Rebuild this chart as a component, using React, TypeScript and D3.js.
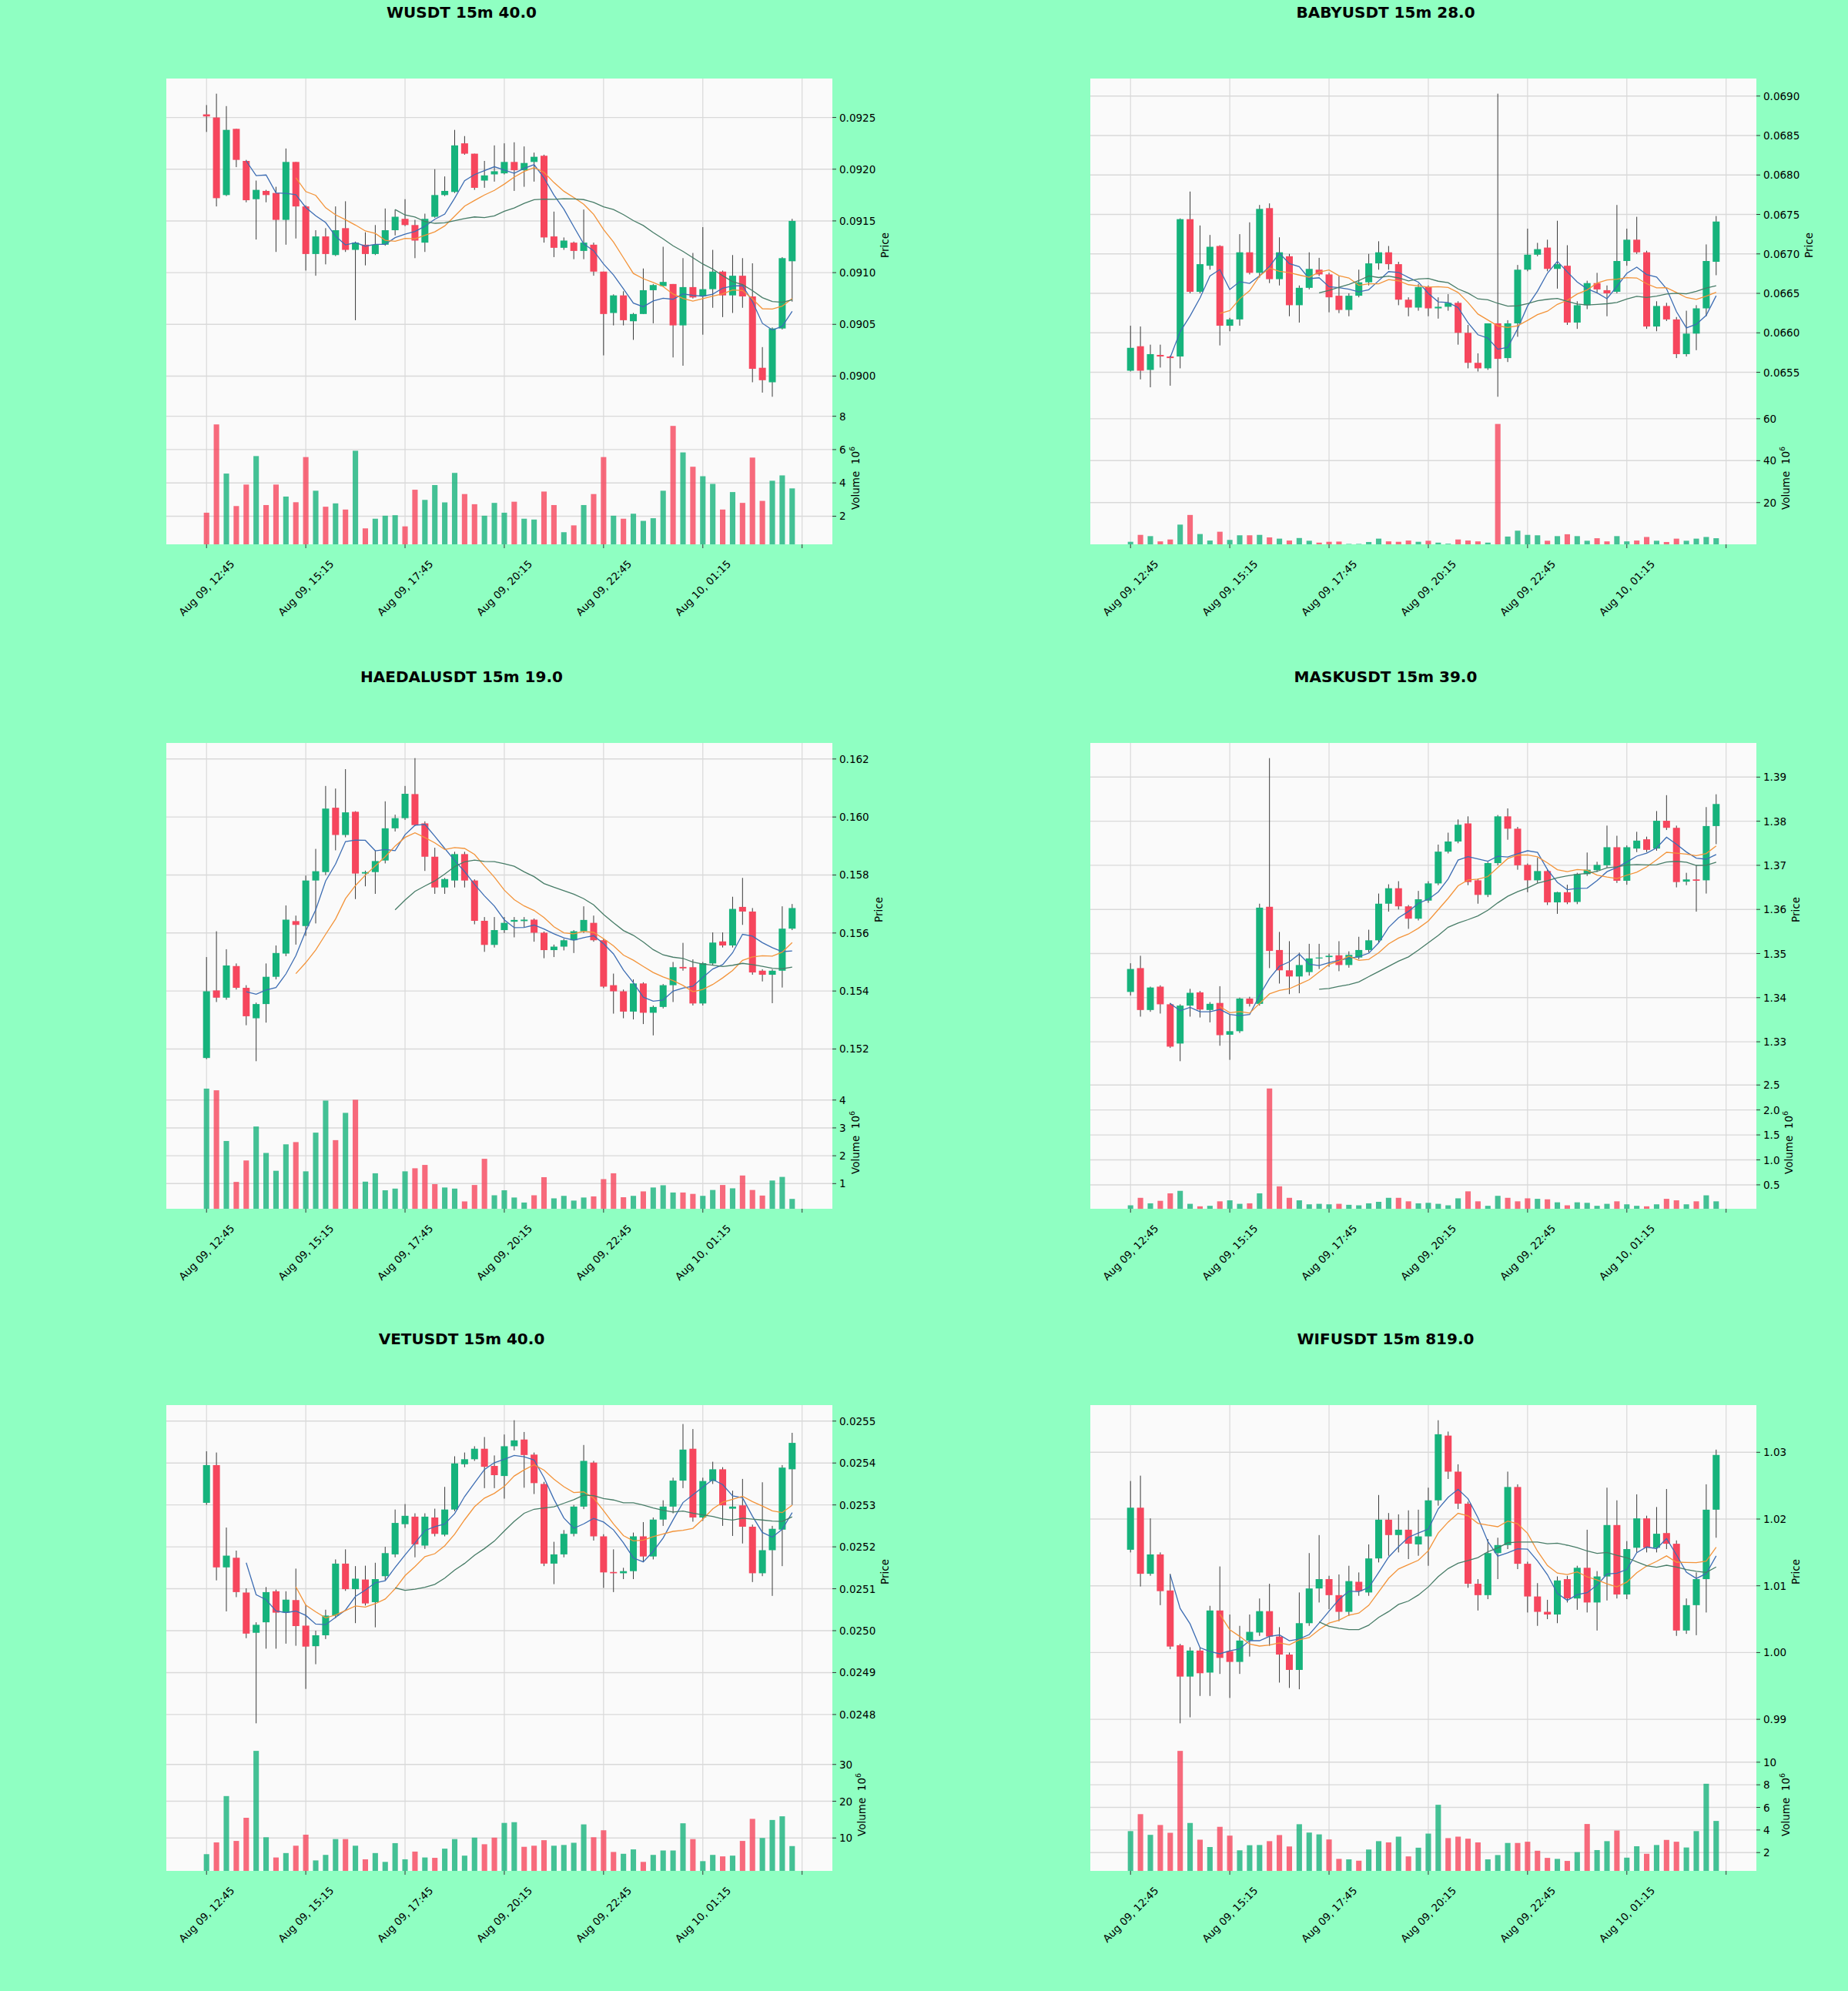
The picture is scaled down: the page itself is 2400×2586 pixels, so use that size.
// Six 15m candlestick panels (price + volume) with MA5 / MA10 / MA20

import * as d3 from "d3";

// x axis: one candle every 15 minutes, ticks every 10 candles
const X_TICKS = [0, 10, 20, 30, 40, 50, 60];
const X_TICK_LABELS = [
  "Aug 09, 12:45",
  "Aug 09, 15:15",
  "Aug 09, 17:45",
  "Aug 09, 20:15",
  "Aug 09, 22:45",
  "Aug 10, 01:15",
  "",
];

// [open, high, low, close]
const WUSDT_OHLC = [
  [0.09253, 0.09262, 0.09236, 0.09251], [0.0925, 0.09273, 0.09164, 0.09172], [0.09175, 0.09261, 0.09174, 0.09238],
  [0.09239, 0.09239, 0.09202, 0.09209], [0.09208, 0.09209, 0.09168, 0.0917], [0.09171, 0.09189, 0.09132, 0.0918],
  [0.09179, 0.0918, 0.09168, 0.09175], [0.09177, 0.09183, 0.0912, 0.09151], [0.09151, 0.0922, 0.09127, 0.09207],
  [0.09207, 0.09207, 0.09133, 0.09164], [0.09164, 0.09165, 0.09102, 0.09118], [0.09118, 0.09141, 0.09097, 0.09135],
  [0.09135, 0.09143, 0.09108, 0.09118], [0.09117, 0.09164, 0.09116, 0.09141], [0.09143, 0.09169, 0.0912, 0.09122],
  [0.09122, 0.0913, 0.09054, 0.09129], [0.09127, 0.09139, 0.09107, 0.09118], [0.09118, 0.09146, 0.09117, 0.09127],
  [0.09127, 0.09162, 0.09126, 0.09141], [0.09141, 0.09161, 0.09136, 0.09154], [0.09152, 0.09171, 0.09145, 0.09146],
  [0.09146, 0.09151, 0.09114, 0.09131], [0.09129, 0.09157, 0.0912, 0.09152], [0.09154, 0.092, 0.09153, 0.09175],
  [0.09175, 0.09193, 0.09174, 0.09179], [0.09178, 0.09238, 0.09177, 0.09223], [0.09225, 0.09232, 0.09214, 0.09215],
  [0.09215, 0.09215, 0.0918, 0.09182], [0.09189, 0.09208, 0.09182, 0.09194], [0.09195, 0.09223, 0.09188, 0.09198],
  [0.09196, 0.09225, 0.09195, 0.09207], [0.09207, 0.09226, 0.09179, 0.09199], [0.09199, 0.09222, 0.09183, 0.09206],
  [0.09207, 0.09216, 0.09188, 0.09212], [0.09213, 0.09214, 0.09129, 0.09134], [0.09135, 0.09159, 0.09115, 0.09124],
  [0.09124, 0.09134, 0.09122, 0.09131], [0.09129, 0.0913, 0.09113, 0.09121], [0.09121, 0.09161, 0.09113, 0.09129],
  [0.09127, 0.09129, 0.09097, 0.09101], [0.09101, 0.09101, 0.0902, 0.0906], [0.09061, 0.09079, 0.09049, 0.09078],
  [0.09078, 0.09082, 0.09049, 0.09054], [0.09053, 0.09061, 0.09035, 0.0906], [0.0906, 0.09104, 0.0906, 0.09083],
  [0.09083, 0.09089, 0.09051, 0.09088], [0.09087, 0.09125, 0.09087, 0.09091], [0.09089, 0.09089, 0.09018, 0.09049],
  [0.09049, 0.09114, 0.0901, 0.09086], [0.09086, 0.09119, 0.09075, 0.09076], [0.09077, 0.09144, 0.0904, 0.09084],
  [0.09084, 0.09122, 0.09066, 0.09101], [0.09101, 0.09102, 0.09057, 0.09078], [0.09078, 0.09117, 0.09061, 0.09097],
  [0.09097, 0.09114, 0.09066, 0.09077], [0.09077, 0.09109, 0.08994, 0.09007], [0.09008, 0.09028, 0.08984, 0.08996],
  [0.08994, 0.09047, 0.0898, 0.09046], [0.09046, 0.09115, 0.09045, 0.09114], [0.09111, 0.09152, 0.09072, 0.0915],
];
// volumes in units of 10^6
const WUSDT_VOL = [
  2.21, 7.51, 4.56, 2.61, 3.9, 5.61, 2.67, 3.9, 3.18, 2.84, 5.55, 3.53, 2.57, 2.77, 2.4, 5.93, 1.27, 1.85, 2.03, 2.06,
  1.39, 3.59, 2.98, 3.87, 2.83, 4.6, 3.33, 2.72, 2.03, 2.8, 2.21, 2.87, 1.85, 1.8, 3.48, 2.67, 1.04, 1.45, 2.67, 3.33,
  5.55, 2.03, 1.85, 2.15, 1.72, 1.88, 3.53, 7.42, 5.83, 4.97, 4.4, 3.94, 2.4, 3.45, 2.8, 5.52, 2.92, 4.13, 4.45, 3.67,
];

const BABYUSDT_OHLC = [
  [0.06552, 0.06609, 0.06551, 0.06581], [0.06583, 0.06608, 0.06541, 0.06552], [0.06553, 0.06585, 0.06531, 0.06573],
  [0.06572, 0.06585, 0.06556, 0.0657], [0.0657, 0.06571, 0.06533, 0.06568], [0.0657, 0.06745, 0.06555, 0.06744],
  [0.06744, 0.06779, 0.0665, 0.06652], [0.06652, 0.06736, 0.0665, 0.06687], [0.06685, 0.06724, 0.0668, 0.06709],
  [0.0671, 0.06711, 0.06584, 0.06609], [0.06609, 0.06619, 0.06602, 0.06617], [0.06617, 0.06725, 0.06609, 0.06702],
  [0.06702, 0.0674, 0.06674, 0.06676], [0.06676, 0.06762, 0.0667, 0.06757], [0.06758, 0.06764, 0.06663, 0.06668],
  [0.06668, 0.06721, 0.0666, 0.06702], [0.06697, 0.067, 0.06621, 0.06635], [0.06635, 0.0666, 0.06613, 0.06657],
  [0.06657, 0.06702, 0.06655, 0.06681], [0.0668, 0.06695, 0.06672, 0.06674], [0.06674, 0.06676, 0.06626, 0.06645],
  [0.06647, 0.06672, 0.06625, 0.06629], [0.06629, 0.0665, 0.06621, 0.06647], [0.06647, 0.0668, 0.06645, 0.06664],
  [0.06664, 0.067, 0.0666, 0.06688], [0.06688, 0.06716, 0.0668, 0.06702], [0.06702, 0.0671, 0.0668, 0.06687],
  [0.06687, 0.0669, 0.06635, 0.06642], [0.06642, 0.06645, 0.06621, 0.06632], [0.06632, 0.06662, 0.06628, 0.06658],
  [0.06658, 0.0666, 0.06621, 0.06631], [0.06631, 0.06645, 0.06618, 0.06633], [0.06633, 0.06649, 0.06628, 0.06638],
  [0.06638, 0.0664, 0.06585, 0.066], [0.066, 0.0661, 0.06555, 0.06562], [0.06562, 0.06574, 0.06551, 0.06555],
  [0.06555, 0.06612, 0.06553, 0.06612], [0.06612, 0.06903, 0.06519, 0.06567], [0.06568, 0.06616, 0.06563, 0.06612],
  [0.06612, 0.06686, 0.06595, 0.0668], [0.0668, 0.06732, 0.06678, 0.06699], [0.06699, 0.06714, 0.06697, 0.06706],
  [0.06708, 0.06718, 0.06678, 0.06681], [0.06681, 0.06742, 0.06656, 0.06687], [0.06685, 0.06711, 0.0661, 0.06613],
  [0.06613, 0.0664, 0.06605, 0.06635], [0.06635, 0.06666, 0.0663, 0.06663], [0.06663, 0.06676, 0.0665, 0.06655],
  [0.06654, 0.0666, 0.06621, 0.0665], [0.06652, 0.06762, 0.0665, 0.06691], [0.06691, 0.06732, 0.06685, 0.06718],
  [0.06718, 0.06747, 0.067, 0.06702], [0.06702, 0.06704, 0.06605, 0.06608], [0.06608, 0.0664, 0.06602, 0.06634],
  [0.06634, 0.06638, 0.06615, 0.06617], [0.06617, 0.0662, 0.06568, 0.06573], [0.06573, 0.06628, 0.0657, 0.06599],
  [0.06599, 0.06635, 0.06578, 0.06631], [0.06631, 0.06712, 0.06621, 0.06691], [0.0669, 0.06748, 0.06673, 0.06741],
];
const BABYUSDT_VOL = [
  1.3, 4.6, 4.0, 1.5, 2.4, 9.5, 14.1, 5.0, 1.9, 6.1, 2.2, 4.4, 4.4, 4.6, 3.4, 2.8, 1.9, 3.1, 1.8, 0.9,
  1.3, 1.4, 0.3, 0.3, 1.2, 2.8, 1.5, 1.3, 1.9, 1.3, 1.8, 0.9, 0.4, 2.4, 1.9, 1.5, 0.9, 57.5, 3.8, 6.6,
  4.6, 4.4, 1.8, 4.0, 4.9, 4.0, 1.8, 3.0, 1.5, 4.0, 1.5, 1.9, 3.6, 1.8, 1.2, 2.8, 1.8, 2.8, 3.6, 3.0,
];

const HAEDALUSDT_OHLC = [
  [0.15169, 0.15517, 0.15165, 0.15399], [0.15402, 0.15606, 0.15362, 0.15377], [0.15377, 0.15544, 0.1537, 0.15488],
  [0.15486, 0.15495, 0.15405, 0.15411], [0.15411, 0.1542, 0.15282, 0.15313], [0.15306, 0.1536, 0.15158, 0.15355],
  [0.15355, 0.15495, 0.15291, 0.15449], [0.15449, 0.15557, 0.1544, 0.15531], [0.15529, 0.15695, 0.1552, 0.15646],
  [0.15641, 0.1566, 0.1556, 0.15628], [0.15624, 0.15798, 0.1559, 0.15781], [0.15781, 0.1589, 0.15633, 0.15813],
  [0.1581, 0.16107, 0.158, 0.16029], [0.16032, 0.16098, 0.15885, 0.15938], [0.15938, 0.16165, 0.1593, 0.16016],
  [0.16018, 0.1602, 0.15717, 0.15805], [0.15805, 0.15815, 0.15761, 0.1581], [0.1581, 0.15885, 0.15735, 0.15848],
  [0.1585, 0.16054, 0.1584, 0.15961], [0.15961, 0.16008, 0.1595, 0.15996], [0.15996, 0.16107, 0.1599, 0.1608],
  [0.16079, 0.16203, 0.15969, 0.15972], [0.15978, 0.15985, 0.15814, 0.15863], [0.15863, 0.15894, 0.15735, 0.15757],
  [0.15757, 0.1579, 0.15735, 0.15786], [0.15781, 0.1588, 0.15757, 0.15872], [0.15872, 0.1588, 0.15757, 0.15781],
  [0.15781, 0.15785, 0.1563, 0.15642], [0.15642, 0.15655, 0.15535, 0.15559], [0.15559, 0.15655, 0.1555, 0.1561],
  [0.1561, 0.15655, 0.156, 0.15635], [0.15639, 0.15655, 0.15585, 0.15645], [0.15641, 0.15655, 0.1562, 0.15646],
  [0.15646, 0.1565, 0.1557, 0.15601], [0.15601, 0.15605, 0.15513, 0.15541], [0.15541, 0.1556, 0.15517, 0.15553],
  [0.15553, 0.1558, 0.1554, 0.15575], [0.15575, 0.1561, 0.15531, 0.15606], [0.15606, 0.15692, 0.156, 0.15645],
  [0.15635, 0.1566, 0.1557, 0.15575], [0.15575, 0.1558, 0.1541, 0.15415], [0.1542, 0.1546, 0.15322, 0.15399],
  [0.15399, 0.15405, 0.15306, 0.15329], [0.15329, 0.1544, 0.15302, 0.15426], [0.15426, 0.1543, 0.15286, 0.15325],
  [0.15325, 0.1535, 0.15247, 0.15345], [0.15345, 0.15424, 0.1534, 0.1542], [0.1542, 0.155, 0.15362, 0.15482],
  [0.15483, 0.15566, 0.1547, 0.15478], [0.15482, 0.15509, 0.1535, 0.15357], [0.15357, 0.155, 0.1535, 0.15496],
  [0.15495, 0.15602, 0.1549, 0.15567], [0.15571, 0.15602, 0.1555, 0.15557], [0.15557, 0.15725, 0.1555, 0.15683],
  [0.1569, 0.1579, 0.15628, 0.15674], [0.15674, 0.15686, 0.15456, 0.15464], [0.1547, 0.15475, 0.15433, 0.15456],
  [0.15456, 0.15475, 0.15358, 0.1547], [0.1547, 0.15692, 0.15412, 0.15615], [0.15615, 0.157, 0.1561, 0.15686],
];
const HAEDALUSDT_VOL = [
  4.41, 4.35, 2.53, 1.06, 1.83, 3.05, 2.1, 1.46, 2.41, 2.49, 1.44, 2.83, 3.98, 2.56, 3.54, 4.01, 1.07, 1.37, 0.76, 0.82,
  1.44, 1.55, 1.67, 0.98, 0.86, 0.82, 0.36, 0.95, 1.89, 0.58, 0.76, 0.5, 0.32, 0.58, 1.23, 0.47, 0.56, 0.39, 0.5, 0.54,
  1.16, 1.37, 0.51, 0.56, 0.72, 0.86, 0.94, 0.68, 0.68, 0.63, 0.56, 0.77, 0.95, 0.83, 1.29, 0.77, 0.57, 1.11, 1.24, 0.45,
];

const MASKUSDT_OHLC = [
  [1.3413, 1.3478, 1.3405, 1.3465], [1.3467, 1.3495, 1.3357, 1.3372], [1.3372, 1.3425, 1.3368, 1.3423],
  [1.3425, 1.3428, 1.3364, 1.3385], [1.3385, 1.3388, 1.3286, 1.3289], [1.3296, 1.3385, 1.3256, 1.3382],
  [1.3382, 1.342, 1.3357, 1.3411], [1.3412, 1.3415, 1.3355, 1.3373], [1.3372, 1.339, 1.3344, 1.3386],
  [1.3388, 1.3426, 1.3291, 1.3315], [1.3316, 1.3362, 1.3259, 1.3324], [1.3324, 1.34, 1.332, 1.3398],
  [1.3398, 1.3402, 1.338, 1.3386], [1.3386, 1.3613, 1.3382, 1.3604], [1.3606, 1.3943, 1.3467, 1.3506],
  [1.3508, 1.3549, 1.3432, 1.3462], [1.3462, 1.3528, 1.3408, 1.3448], [1.3448, 1.3502, 1.341, 1.3474],
  [1.3458, 1.3522, 1.345, 1.3489], [1.3489, 1.3522, 1.3465, 1.3491], [1.3492, 1.35, 1.347, 1.3495],
  [1.3496, 1.3528, 1.346, 1.3474], [1.3474, 1.3505, 1.3468, 1.3497], [1.3491, 1.3538, 1.3487, 1.3508],
  [1.3508, 1.3554, 1.3503, 1.353], [1.353, 1.3636, 1.3525, 1.3613], [1.3613, 1.3657, 1.3595, 1.3648],
  [1.3648, 1.3664, 1.36, 1.3607], [1.3607, 1.361, 1.3556, 1.3579], [1.3579, 1.3642, 1.3575, 1.3623],
  [1.362, 1.3664, 1.3615, 1.3659], [1.3659, 1.3747, 1.3655, 1.3731], [1.3731, 1.3774, 1.3727, 1.3754],
  [1.3754, 1.3804, 1.375, 1.3792], [1.3795, 1.3811, 1.3655, 1.3662], [1.3666, 1.367, 1.3613, 1.3633],
  [1.3633, 1.3708, 1.3628, 1.3705], [1.3705, 1.3814, 1.37, 1.3811], [1.3811, 1.3829, 1.3758, 1.3783],
  [1.3783, 1.3787, 1.369, 1.37], [1.3701, 1.3704, 1.3639, 1.3666], [1.3666, 1.3717, 1.366, 1.3687],
  [1.3687, 1.369, 1.361, 1.3616], [1.3616, 1.364, 1.359, 1.3639], [1.3639, 1.3656, 1.3612, 1.3616],
  [1.3617, 1.3683, 1.3612, 1.368], [1.368, 1.3729, 1.3676, 1.369], [1.3689, 1.3708, 1.3685, 1.3701],
  [1.37, 1.379, 1.3695, 1.3741], [1.3741, 1.3767, 1.366, 1.3665], [1.3665, 1.3745, 1.3656, 1.3741],
  [1.3738, 1.3776, 1.373, 1.3756], [1.3759, 1.3765, 1.373, 1.3735], [1.3738, 1.3823, 1.3733, 1.3801],
  [1.3801, 1.3859, 1.378, 1.3785], [1.3785, 1.379, 1.365, 1.3662], [1.3663, 1.3683, 1.3655, 1.3668],
  [1.3668, 1.37, 1.3595, 1.3665], [1.3666, 1.3832, 1.3636, 1.3789], [1.3789, 1.3861, 1.3748, 1.3839],
];
const MASKUSDT_VOL = [
  0.09, 0.24, 0.13, 0.18, 0.33, 0.38, 0.12, 0.07, 0.08, 0.17, 0.19, 0.12, 0.13, 0.33, 2.43, 0.47, 0.24, 0.19, 0.11, 0.12,
  0.11, 0.12, 0.1, 0.09, 0.13, 0.16, 0.24, 0.24, 0.17, 0.13, 0.14, 0.12, 0.09, 0.23, 0.37, 0.17, 0.08, 0.28, 0.24, 0.17,
  0.23, 0.22, 0.21, 0.15, 0.09, 0.15, 0.14, 0.08, 0.12, 0.17, 0.11, 0.08, 0.07, 0.11, 0.22, 0.19, 0.11, 0.17, 0.29, 0.17,
];

const VETUSDT_OHLC = [
  [0.025305, 0.025428, 0.0253, 0.025395], [0.025395, 0.025425, 0.02512, 0.025151], [0.025151, 0.025246, 0.025046, 0.025179],
  [0.025174, 0.025191, 0.02508, 0.025092], [0.025091, 0.025101, 0.024982, 0.024993], [0.024995, 0.02502, 0.024779, 0.025014],
  [0.02502, 0.025104, 0.024957, 0.025092], [0.025094, 0.025098, 0.024957, 0.025043], [0.025043, 0.025094, 0.024969, 0.025074],
  [0.025073, 0.025148, 0.024964, 0.025011], [0.025012, 0.025062, 0.024861, 0.024962], [0.024963, 0.025, 0.02492, 0.024989],
  [0.024989, 0.02505, 0.02498, 0.025036], [0.025036, 0.02517, 0.02503, 0.02516], [0.02516, 0.025194, 0.025095, 0.025099],
  [0.025099, 0.025154, 0.025018, 0.025124], [0.025122, 0.025155, 0.02506, 0.025065], [0.025068, 0.025162, 0.025008, 0.025123],
  [0.02513, 0.0252, 0.02512, 0.025185], [0.025182, 0.025289, 0.025175, 0.025257], [0.025254, 0.025302, 0.025245, 0.025274],
  [0.025272, 0.02528, 0.025175, 0.025206], [0.025203, 0.02528, 0.025195, 0.025272], [0.02527, 0.025291, 0.025225, 0.025231],
  [0.025229, 0.025343, 0.025225, 0.025289], [0.025289, 0.025416, 0.025285, 0.025399], [0.025397, 0.025425, 0.02539, 0.025409],
  [0.025409, 0.02544, 0.025405, 0.025434], [0.025434, 0.025462, 0.02534, 0.025391], [0.025393, 0.025418, 0.02534, 0.025371],
  [0.025369, 0.025468, 0.025315, 0.02544], [0.02544, 0.025502, 0.02543, 0.025454], [0.025456, 0.025474, 0.025341, 0.025419],
  [0.02542, 0.025425, 0.025326, 0.025352], [0.02535, 0.025355, 0.025154, 0.02516], [0.02516, 0.025212, 0.025111, 0.025182],
  [0.025182, 0.02524, 0.025175, 0.025231], [0.025231, 0.0253, 0.025225, 0.025296], [0.025296, 0.025443, 0.02529, 0.025405],
  [0.025401, 0.025405, 0.025215, 0.025225], [0.025225, 0.02523, 0.025102, 0.025139], [0.02514, 0.025194, 0.025092, 0.025137],
  [0.025137, 0.02515, 0.025123, 0.025142], [0.025142, 0.025234, 0.025123, 0.025225], [0.025225, 0.025259, 0.025165, 0.025177],
  [0.025177, 0.02527, 0.02517, 0.025265], [0.025265, 0.025311, 0.02525, 0.025296], [0.025296, 0.025365, 0.02528, 0.025358],
  [0.025358, 0.025493, 0.02534, 0.025432], [0.025434, 0.025481, 0.02526, 0.02527], [0.02527, 0.025365, 0.025262, 0.025357],
  [0.025357, 0.025403, 0.02535, 0.025385], [0.025385, 0.02539, 0.02525, 0.025299], [0.025291, 0.025334, 0.025226, 0.025296],
  [0.025299, 0.025362, 0.025208, 0.025248], [0.025248, 0.025253, 0.025116, 0.025137], [0.025137, 0.025354, 0.02513, 0.025192],
  [0.025192, 0.02525, 0.025083, 0.025243], [0.025241, 0.025395, 0.025154, 0.025389], [0.025385, 0.025472, 0.0253, 0.025448],
];
const VETUSDT_VOL = [
  5.6, 8.8, 21.4, 9.2, 15.5, 33.7, 10.2, 4.7, 5.9, 7.9, 10.9, 3.9, 5.4, 9.7, 9.7, 7.9, 4.2, 5.9, 3.5, 8.6,
  4.2, 6.3, 4.7, 4.6, 7.1, 9.7, 5.2, 10.1, 8.3, 10.1, 14.1, 14.3, 7.6, 7.9, 9.4, 7.9, 8.1, 8.7, 13.7, 10.2,
  12.1, 6.2, 5.7, 6.9, 3.5, 5.4, 6.6, 6.6, 14.0, 9.7, 3.7, 5.4, 5.0, 5.2, 9.2, 15.2, 10.0, 14.9, 15.9, 7.8,
];

const WIFUSDT_OHLC = [
  [1.0154, 1.0257, 1.015, 1.0217], [1.0217, 1.0265, 1.0099, 1.0118], [1.0118, 1.0201, 1.0115, 1.0147],
  [1.0147, 1.015, 1.0071, 1.0092], [1.0093, 1.0118, 1.0005, 1.0009], [1.0011, 1.0013, 0.9894, 0.9964],
  [0.9964, 1.0008, 0.9903, 1.0003], [1.0003, 1.0008, 0.9935, 0.9969], [0.997, 1.007, 0.9935, 1.0063],
  [1.0063, 1.0129, 0.9968, 0.9992], [1.0002, 1.0057, 0.9932, 0.9986], [0.9986, 1.004, 0.9968, 1.0018],
  [1.0018, 1.0057, 0.9994, 1.0031], [1.003, 1.0081, 1.0025, 1.0062], [1.0062, 1.0103, 1.001, 1.0024],
  [1.0024, 1.0038, 0.9955, 0.9997], [0.9997, 1.0, 0.9947, 0.9974], [0.9974, 1.009, 0.9945, 1.0044],
  [1.0044, 1.0149, 1.004, 1.0096], [1.0096, 1.0176, 1.0075, 1.011], [1.011, 1.0115, 1.0065, 1.0086],
  [1.0086, 1.0117, 1.0047, 1.0061], [1.0061, 1.013, 1.0055, 1.0107], [1.0106, 1.012, 1.0085, 1.0092],
  [1.009, 1.0162, 1.0085, 1.0141], [1.0141, 1.0236, 1.0135, 1.0199], [1.0199, 1.0209, 1.0145, 1.0176],
  [1.0176, 1.0207, 1.015, 1.0184], [1.0184, 1.0213, 1.014, 1.0163], [1.0162, 1.0214, 1.0145, 1.0174],
  [1.0174, 1.0247, 1.013, 1.0228], [1.0228, 1.0348, 1.022, 1.0327], [1.0325, 1.0331, 1.026, 1.0271],
  [1.0271, 1.0282, 1.0215, 1.0223], [1.0223, 1.0226, 1.0097, 1.0103], [1.0103, 1.011, 1.0063, 1.0086],
  [1.0086, 1.017, 1.008, 1.0149], [1.0149, 1.0172, 1.011, 1.0161], [1.0161, 1.0271, 1.0155, 1.0248],
  [1.0248, 1.0252, 1.0125, 1.0133], [1.0133, 1.0136, 1.006, 1.0084], [1.0084, 1.0104, 1.004, 1.0061],
  [1.0061, 1.0079, 1.005, 1.0057], [1.0057, 1.0114, 1.0044, 1.0108], [1.011, 1.0115, 1.0075, 1.0081],
  [1.0081, 1.013, 1.0064, 1.0127], [1.0127, 1.0184, 1.006, 1.0075], [1.0075, 1.0122, 1.0033, 1.0114],
  [1.0114, 1.0247, 1.0078, 1.0191], [1.0191, 1.0228, 1.0081, 1.0087], [1.0087, 1.0167, 1.008, 1.0155],
  [1.0157, 1.0237, 1.015, 1.0201], [1.0201, 1.0205, 1.015, 1.0157], [1.0157, 1.0218, 1.015, 1.0178],
  [1.0179, 1.0245, 1.0155, 1.0163], [1.0163, 1.0168, 1.0025, 1.0033], [1.0033, 1.0081, 1.0028, 1.0071],
  [1.0071, 1.012, 1.0026, 1.011], [1.011, 1.0252, 1.006, 1.0214], [1.0214, 1.0304, 1.0172, 1.0296],
];
const WIFUSDT_VOL = [
  3.9, 5.4, 3.57, 4.44, 3.75, 11.0, 4.62, 3.14, 2.49, 4.28, 3.5, 2.2, 2.65, 2.67, 3.01, 3.55, 2.54, 4.51, 3.77, 3.61,
  3.16, 1.44, 1.4, 1.28, 2.27, 3.01, 2.9, 3.41, 1.66, 2.43, 3.68, 6.23, 3.28, 3.41, 3.23, 2.9, 1.4, 1.78, 2.85, 2.85,
  2.96, 2.16, 1.53, 1.44, 1.26, 2.04, 4.53, 2.22, 3.01, 3.95, 1.55, 2.56, 1.89, 2.67, 3.12, 2.96, 2.45, 3.9, 8.09, 4.8,
];

const MA_PERIODS = [5, 10, 20];
const MA_COLORS = ["#3d6db3", "#f3943a", "#477c67"];

const UP = "#16b37c";
const DOWN = "#f6465d";
const BG = "#8fffc2";
const FACE = "#fafafa";
const GRID = "#d9d9d9";
const FONT = "DejaVu Sans, sans-serif";
const FS = 13.5;

const COL_X = [
  [216, 1081],
  [1416, 2281],
];
const ROW_Y = [102, 965, 1825];
const PRICE_H = 433;
const VOL_H = 172;

const panels = [
  { title: "WUSDT 15m 40.0", ohlc: WUSDT_OHLC, vol: WUSDT_VOL, priceTicks: [0.09, 0.0905, 0.091, 0.0915, 0.092, 0.0925], pd: 4, volTicks: [2, 4, 6, 8], vd: 0 },
  { title: "BABYUSDT 15m 28.0", ohlc: BABYUSDT_OHLC, vol: BABYUSDT_VOL, priceTicks: [0.0655, 0.066, 0.0665, 0.067, 0.0675, 0.068, 0.0685, 0.069], pd: 4, volTicks: [20, 40, 60], vd: 0 },
  { title: "HAEDALUSDT 15m 19.0", ohlc: HAEDALUSDT_OHLC, vol: HAEDALUSDT_VOL, priceTicks: [0.152, 0.154, 0.156, 0.158, 0.16, 0.162], pd: 3, volTicks: [1, 2, 3, 4], vd: 0 },
  { title: "MASKUSDT 15m 39.0", ohlc: MASKUSDT_OHLC, vol: MASKUSDT_VOL, priceTicks: [1.33, 1.34, 1.35, 1.36, 1.37, 1.38, 1.39], pd: 2, volTicks: [0.5, 1, 1.5, 2, 2.5], vd: 1 },
  { title: "VETUSDT 15m 40.0", ohlc: VETUSDT_OHLC, vol: VETUSDT_VOL, priceTicks: [0.0248, 0.0249, 0.025, 0.0251, 0.0252, 0.0253, 0.0254, 0.0255], pd: 4, volTicks: [10, 20, 30], vd: 0 },
  { title: "WIFUSDT 15m 819.0", ohlc: WIFUSDT_OHLC, vol: WIFUSDT_VOL, priceTicks: [0.99, 1.0, 1.01, 1.02, 1.03], pd: 2, volTicks: [2, 4, 6, 8, 10], vd: 0 },
];

// rough text width for digit labels in DejaVu Sans
const labelWidth = (s: string) =>
  [...s].reduce((a, c) => a + (c === "." ? 0.318 : 0.636) * FS, 0);

function sma(values: number[], n: number) {
  return values.map((_, i) => (i < n - 1 ? null : d3.mean(values.slice(i - n + 1, i + 1))!));
}

function Panel({ cfg, left, right, top }: any) {
  const ohlc: number[][] = cfg.ohlc;
  const vol: number[] = cfg.vol;
  const n = ohlc.length;
  const priceBottom = top + PRICE_H;
  const volBottom = priceBottom + VOL_H;

  const x = d3.scaleLinear().domain([-4.05, n + 3.05]).range([left, right]);
  const lo = d3.min(ohlc, (d) => d[2])!;
  const hi = d3.max(ohlc, (d) => d[1])!;
  const pad = (hi - lo) * 0.05;
  const y = d3.scaleLinear().domain([lo - pad, hi + pad]).range([priceBottom, top]);
  const yv = d3
    .scaleLinear()
    .domain([0.3 * d3.min(vol)!, 1.1 * d3.max(vol)!])
    .range([volBottom, priceBottom]);

  const step = x(1) - x(0);
  const bodyW = step * 0.7;
  const volW = step * 0.55;
  const closes = ohlc.map((d) => d[3]);

  const line = d3
    .line<number | null>()
    .defined((d) => d !== null)
    .x((_, i) => x(i))
    .y((d) => y(d as number));

  const priceFmt = d3.format(`.${cfg.pd}f`);
  const volFmt = d3.format(`.${cfg.vd}f`);
  const priceLabels = cfg.priceTicks.map((t: number) => priceFmt(t));
  const volLabels = cfg.volTicks.map((t: number) => volFmt(t));
  const priceLabelX = right + 9 + d3.max(priceLabels, (s: string) => labelWidth(s))! + 12;
  const volLabelX = right + 9 + d3.max(volLabels, (s: string) => labelWidth(s))! + 12;

  const xLabelH = (labelWidth("00 00, 00:00") + 0.7 * FS + FS) / Math.SQRT2;

  return (
    <g>
      <text
        x={(left + right) / 2 - 49}
        y={top - 86}
        dominantBaseline="central"
        textAnchor="middle"
        fontWeight="bold"
        fontSize={20}
        fontFamily={FONT}
      >
        {cfg.title}
      </text>

      <rect x={left} y={top} width={right - left} height={PRICE_H + VOL_H} fill={FACE} />

      {/* grid */}
      {X_TICKS.map((t) => (
        <line key={"vx" + t} x1={x(t)} x2={x(t)} y1={top} y2={volBottom} stroke={GRID} strokeWidth={1.2} />
      ))}
      {cfg.priceTicks.map((t: number) => (
        <line key={"py" + t} x1={left} x2={right} y1={y(t)} y2={y(t)} stroke={GRID} strokeWidth={1.4} />
      ))}
      {cfg.volTicks.map((t: number) => (
        <line key={"vy" + t} x1={left} x2={right} y1={yv(t)} y2={yv(t)} stroke={GRID} strokeWidth={1.4} />
      ))}

      {/* volume */}
      {vol.map((v, i) => (
        <rect
          key={"v" + i}
          x={x(i) - volW / 2}
          y={yv(v)}
          width={volW}
          height={volBottom - yv(v)}
          fill={ohlc[i][3] >= ohlc[i][0] ? UP : DOWN}
          opacity={0.8}
        />
      ))}

      {/* candles */}
      {ohlc.map(([o, h, l, c], i) => {
        const up = c >= o;
        const yTop = y(Math.max(o, c));
        const yBot = y(Math.min(o, c));
        return (
          <g key={"c" + i}>
            <line x1={x(i)} x2={x(i)} y1={y(h)} y2={y(l)} stroke="#3a3a3a" strokeWidth={1} />
            <rect
              x={x(i) - bodyW / 2}
              y={yTop}
              width={bodyW}
              height={Math.max(yBot - yTop, 1.2)}
              fill={up ? UP : DOWN}
            />
          </g>
        );
      })}

      {/* moving averages */}
      {MA_PERIODS.map((p, k) => (
        <path key={"ma" + p} d={line(sma(closes, p)) || ""} fill="none" stroke={MA_COLORS[k]} strokeWidth={1.3} />
      ))}

      {/* right y axes */}
      {cfg.priceTicks.map((t: number, i: number) => (
        <g key={"pt" + t}>
          <line x1={right} x2={right + 5} y1={y(t)} y2={y(t)} stroke="#333" />
          <text x={right + 9} y={y(t)} dominantBaseline="central" fontSize={FS} fontFamily={FONT}>
            {priceLabels[i]}
          </text>
        </g>
      ))}
      {cfg.volTicks.map((t: number, i: number) => (
        <g key={"vt" + t}>
          <line x1={right} x2={right + 5} y1={yv(t)} y2={yv(t)} stroke="#333" />
          <text x={right + 9} y={yv(t)} dominantBaseline="central" fontSize={FS} fontFamily={FONT}>
            {volLabels[i]}
          </text>
        </g>
      ))}
      <text
        transform={`translate(${priceLabelX},${(top + priceBottom) / 2}) rotate(-90)`}
        textAnchor="middle"
        dominantBaseline="central"
        fontSize={FS}
        fontFamily={FONT}
      >
        Price
      </text>
      <text
        transform={`translate(${volLabelX},${(priceBottom + volBottom) / 2}) rotate(-90)`}
        textAnchor="middle"
        dominantBaseline="central"
        fontSize={FS}
        fontFamily={FONT}
        style={{ whiteSpace: "pre" }}
      >
        {"Volume  10"}
        <tspan dy={-5} fontSize={FS * 0.7}>
          6
        </tspan>
      </text>

      {/* x axis */}
      {X_TICKS.map((t, i) => (
        <g key={"xt" + t}>
          <line x1={x(t)} x2={x(t)} y1={volBottom} y2={volBottom + 5} stroke="#333" />
          {X_TICK_LABELS[i] && (
            <text
              transform={`translate(${x(t)},${volBottom + 12 + xLabelH / 2}) rotate(-45)`}
              textAnchor="middle"
              dominantBaseline="central"
              fontSize={FS}
              fontFamily={FONT}
            >
              {X_TICK_LABELS[i]}
            </text>
          )}
        </g>
      ))}
    </g>
  );
}

export default function App() {
  return (
    <svg
      width={2400}
      height={2586}
      style={{ position: "absolute", left: 0, top: 0, display: "block", background: BG }}
    >
      <rect width={2400} height={2586} fill={BG} />
      {panels.map((cfg, i) => (
        <Panel
          key={cfg.title}
          cfg={cfg}
          left={COL_X[i % 2][0]}
          right={COL_X[i % 2][1]}
          top={ROW_Y[Math.floor(i / 2)]}
        />
      ))}
    </svg>
  );
}
